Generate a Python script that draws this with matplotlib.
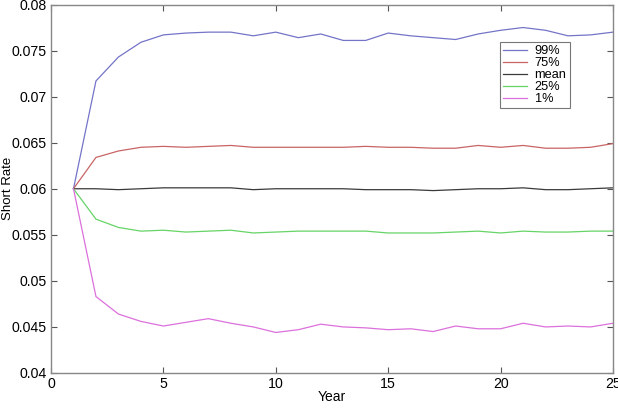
import matplotlib
matplotlib.use('Agg')
import matplotlib.pyplot as plt

plt.rcParams['font.family'] = ['Liberation Sans', 'DejaVu Sans']

# Years 1..25
years = list(range(1, 26))

# Percentile paths of the short rate
p99 = [0.0600, 0.0717, 0.0743, 0.0759, 0.0767, 0.0769, 0.0770, 0.0770, 0.0766, 0.0770,
       0.0764, 0.0768, 0.0761, 0.0761, 0.0769, 0.0766, 0.0764, 0.0762, 0.0768, 0.0772,
       0.0775, 0.0772, 0.0766, 0.0767, 0.0770]
p75 = [0.0600, 0.0634, 0.0641, 0.0645, 0.0646, 0.0645, 0.0646, 0.0647, 0.0645, 0.0645,
       0.0645, 0.0645, 0.0645, 0.0646, 0.0645, 0.0645, 0.0644, 0.0644, 0.0647, 0.0645,
       0.0647, 0.0644, 0.0644, 0.0645, 0.0649]
mean = [0.0600, 0.0600, 0.0599, 0.0600, 0.0601, 0.0601, 0.0601, 0.0601, 0.0599, 0.0600,
        0.0600, 0.0600, 0.0600, 0.0599, 0.0599, 0.0599, 0.0598, 0.0599, 0.0600, 0.0600,
        0.0601, 0.0599, 0.0599, 0.0600, 0.0601]
p25 = [0.0600, 0.0567, 0.0558, 0.0554, 0.0555, 0.0553, 0.0554, 0.0555, 0.0552, 0.0553,
       0.0554, 0.0554, 0.0554, 0.0554, 0.0552, 0.0552, 0.0552, 0.0553, 0.0554, 0.0552,
       0.0554, 0.0553, 0.0553, 0.0554, 0.0554]
p1 = [0.0600, 0.0483, 0.0464, 0.0456, 0.0451, 0.0455, 0.0459, 0.0454, 0.0450, 0.0444,
      0.0447, 0.0453, 0.0450, 0.0449, 0.0447, 0.0448, 0.0445, 0.0451, 0.0448, 0.0448,
      0.0454, 0.0450, 0.0451, 0.0450, 0.0454]

series = [('99%', p99, '#7474c8'),
          ('75%', p75, '#c86464'),
          ('mean', mean, '#3a3a3a'),
          ('25%', p25, '#66d466'),
          ('1%', p1, '#dc70dc')]

xticks = [0, 5, 10, 15, 20, 25]
yticks = [0.04, 0.045, 0.05, 0.055, 0.06, 0.065, 0.07, 0.075, 0.08]
ytick_labels = ['0.04', '0.045', '0.05', '0.055', '0.06', '0.065', '0.07', '0.075', '0.08']

fig = plt.figure(figsize=(6.18, 4.12), dpi=100)
ax = fig.add_axes([51 / 618, 39 / 412, 562 / 618, 368.5 / 412])

for name, vals, col in series:
    ax.plot(years, vals, color=col, linewidth=0.9, label=name)

ax.set_xlim(0, 25)
ax.set_ylim(0.04, 0.08)
ax.set_xticks(xticks)
ax.set_yticks(yticks)
ax.set_yticklabels(ytick_labels)
ax.tick_params(direction='in', top=True, right=True, labelsize=10.2,
               length=4, color='#555555', pad=3)
for s in ax.spines.values():
    s.set_color('#888888')
    s.set_linewidth(1.0)

ax.set_xlabel('Year', fontsize=10)
ax.xaxis.set_label_coords(0.5, -0.045)
ax.set_ylabel('Short Rate', fontsize=9.5)
ax.yaxis.set_label_coords(-0.066, 0.5)

leg = ax.legend(loc='upper left', bbox_to_anchor=(449 / 562, 1 - 37.5 / 368.5),
                fontsize=9.2, frameon=True, fancybox=False, borderpad=0.25,
                handlelength=1.9, handletextpad=0.55, labelspacing=0.0,
                borderaxespad=0)
leg.get_frame().set_edgecolor('#555555')
leg.get_frame().set_linewidth(0.8)

fig.savefig('out.png', dpi=100)
